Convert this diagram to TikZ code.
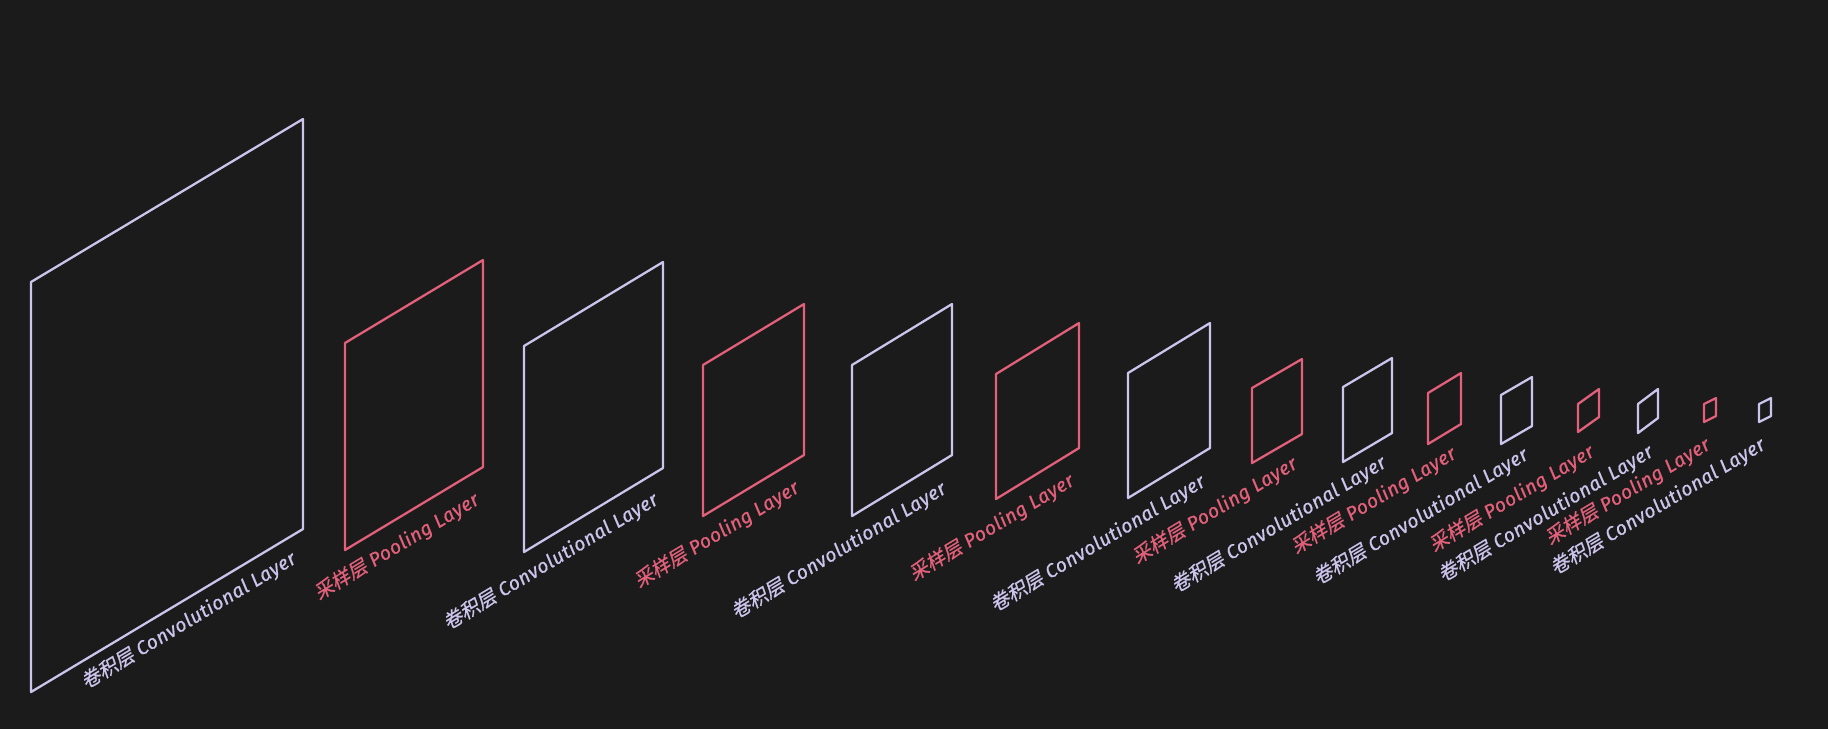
\documentclass[tikz,border=0pt]{standalone}
\usepackage{fontspec}
\setmainfont{Fira Sans}
\newfontfamily\lblfont[FakeBold=0.8, LetterSpace=3]{Fira Sans}
\newfontfamily\cjk[FakeSlant=0.2, FakeBold=0.8]{Noto Sans CJK SC}
\usetikzlibrary{calc}

\definecolor{bgdark}{HTML}{1B1B1B}
\definecolor{convcol}{HTML}{CCC4EC}
\definecolor{poolcol}{HTML}{E2607A}

\tikzset{
  convbox/.style={draw=convcol, line width=0.65pt, line join=round},
  poolbox/.style={draw=poolcol, line width=0.65pt, line join=round},
  lbl/.style={anchor=base east, rotate=31, inner sep=0pt,
    font=\lblfont\fontsize{5.5}{7}\selectfont\itshape},
  convlbl/.style={lbl, text=convcol},
  poollbl/.style={lbl, text=poolcol},
}

\begin{document}
\begin{tikzpicture}[x=0.01cm, y=-0.01cm]
\fill[bgdark] (0,0) rectangle (1828,729);
\useasboundingbox (0,0) rectangle (1828,729);

% layers, big to small
\draw[convbox] (31,692) -- ++(0,-410) -- ++(272,-163) -- ++(0,410) -- cycle;
\node[convlbl] (lc1) at (298,562) {{\cjk 卷积层}\ Convolutional Layer};

\draw[poolbox] (345,550) -- ++(0,-207) -- ++(138,-83) -- ++(0,207) -- cycle;
\node[poollbl] (lp2) at (481,503) {{\cjk 采样层}\ Pooling Layer};

\draw[convbox] (524,552) -- ++(0,-206) -- ++(139,-84) -- ++(0,206) -- cycle;
\node[convlbl] (lc3) at (660,503) {{\cjk 卷积层}\ Convolutional Layer};

\draw[poolbox] (703,516) -- ++(0,-151) -- ++(101,-61) -- ++(0,151) -- cycle;
\node[poollbl] (lp4) at (801,491) {{\cjk 采样层}\ Pooling Layer};

\draw[convbox] (852,516) -- ++(0,-151) -- ++(100,-61) -- ++(0,151) -- cycle;
\node[convlbl] (lc5) at (948,492) {{\cjk 卷积层}\ Convolutional Layer};

\draw[poolbox] (996,499) -- ++(0,-125) -- ++(83,-51) -- ++(0,125) -- cycle;
\node[poollbl] (lp6) at (1076,484) {{\cjk 采样层}\ Pooling Layer};

\draw[convbox] (1128,498) -- ++(0,-125) -- ++(82,-50) -- ++(0,125) -- cycle;
\node[convlbl] (lc7) at (1207,485) {{\cjk 卷积层}\ Convolutional Layer};

\draw[poolbox] (1252,463) -- ++(0,-75) -- ++(50,-29) -- ++(0,75) -- cycle;
\node[poollbl] (lp8) at (1299,467) {{\cjk 采样层}\ Pooling Layer};

\draw[convbox] (1343,462) -- ++(0,-75) -- ++(49,-29) -- ++(0,75) -- cycle;
\node[convlbl] (lc9) at (1388,466) {{\cjk 卷积层}\ Convolutional Layer};

\draw[poolbox] (1428,444) -- ++(0,-51) -- ++(33,-20) -- ++(0,51) -- cycle;
\node[poollbl] (lp10) at (1458,457) {{\cjk 采样层}\ Pooling Layer};

\draw[convbox] (1501,444) -- ++(0,-49) -- ++(31,-18) -- ++(0,49) -- cycle;
\node[convlbl] (lc11) at (1530,458) {{\cjk 卷积层}\ Convolutional Layer};

\draw[poolbox] (1578,432) -- ++(0,-28) -- ++(21,-15) -- ++(0,28) -- cycle;
\node[poollbl] (lp12) at (1596,455) {{\cjk 采样层}\ Pooling Layer};

\draw[convbox] (1638,433) -- ++(0,-29) -- ++(20,-15) -- ++(0,29) -- cycle;
\node[convlbl] (lc13) at (1655,455) {{\cjk 卷积层}\ Convolutional Layer};

\draw[poolbox] (1704,422) -- ++(0,-18) -- ++(12,-6) -- ++(0,18) -- cycle;
\node[poollbl] (lp14) at (1712,448) {{\cjk 采样层}\ Pooling Layer};

\draw[convbox] (1759,422) -- ++(0,-18) -- ++(12,-6) -- ++(0,18) -- cycle;
\node[convlbl] (lc15) at (1767,448) {{\cjk 卷积层}\ Convolutional Layer};
\end{tikzpicture}
\end{document}
